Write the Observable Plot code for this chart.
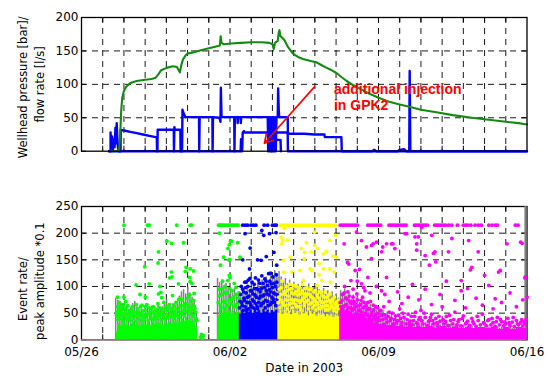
<!DOCTYPE html>
<html><head><meta charset="utf-8">
<script src="https://cdn.jsdelivr.net/npm/d3@7"></script>
<script src="https://cdn.jsdelivr.net/npm/@observablehq/plot@0.6"></script>
<style>
body{margin:0;background:#fff;}
#chart{position:relative;width:548px;height:376px;background:#fff;}
#chart svg{position:absolute;left:0;overflow:visible;}
</style></head><body><div id="chart"></div>
<script>
// ---------- DATA (x = days after 05/26/2003 00:00) ----------
const dayTicks = [0, 7, 14, 21];
const dayLabels = ["05/26", "06/02", "06/09", "06/16"];
const gridDays = [1,2,3,4,5,6,7,8,9,10,11,12,13,14,15,16,17,18,19,20];
const pressureTicks = [0, 50, 100, 150, 200];
const eventTicks = [0, 50, 100, 150, 200, 250];

const pressure = [[1.37,0],[1.55,0],[1.77,1],[1.82,20],[1.87,60],[1.92,80],[2.0,90],[2.1,96],[2.3,102],[2.6,105],[3.0,107],[3.3,108],[3.5,110],[3.62,115],[3.75,121],[4.05,125],[4.3,127],[4.5,126],[4.58,121],[4.64,118],[4.70,128],[4.78,137],[4.9,143],[5.0,146],[5.3,148],[5.63,151],[6.0,154],[6.26,156],[6.52,158],[6.56,172],[6.60,162],[6.7,160],[7.05,161],[7.5,162],[8.0,163],[8.5,163],[8.86,162],[9.0,160],[9.06,153],[9.12,162],[9.25,165],[9.30,178],[9.33,181],[9.38,172],[9.45,170],[9.57,166],[9.73,156],[9.97,146],[10.2,141],[10.44,138],[10.8,135],[11.07,133],[11.3,129],[11.54,125],[11.8,121],[12.02,117],[12.25,111],[12.5,105],[12.8,99],[13.1,94],[13.5,87],[14.0,80],[14.5,74],[15.0,70],[15.5,66],[16.0,62],[16.8,58],[17.5,54],[18.4,50],[19.2,47],[20.0,44],[20.6,42],[21,40]];

const flowA = [[1.30,0],[1.37,0],[1.37,28],[1.40,4],[1.44,22],[1.48,3],[1.52,18],[1.56,6],[1.60,35],[1.63,12],[1.66,42],[1.69,20],[1.72,5],[1.76,0],[1.84,0],[1.85,32],[2.0,31],[2.3,29],[2.6,27],[2.9,25],[3.2,23],[3.5,21],[3.55,21],[3.56,0],[3.58,0],[3.59,32],[4.35,32],[4.36,0],[4.38,36],[4.40,32],[4.66,32],[4.67,0],[4.74,0],[4.76,62],[4.82,56],[4.9,51],[5.54,51],[5.55,0],[5.57,51],[6.17,51],[6.18,0],[6.20,51],[6.50,50],[6.55,44],[6.57,95],[6.60,52],[6.64,51],[7.20,51],[7.21,0],[7.23,51],[7.35,51],[7.36,42],[7.38,51],[7.50,51],[7.51,42],[7.53,51],[8.78,51],[8.80,0],[8.83,51],[8.86,0],[8.89,51],[8.92,0],[8.95,51],[8.98,0],[9.01,51],[9.04,0],[9.07,51],[9.10,0],[9.13,51],[9.16,0],[9.19,51],[9.25,51],[9.27,94],[9.30,60],[9.32,51],[9.72,51],[9.73,26],[10.5,26],[11.0,25],[11.45,25],[11.47,21],[12.25,21],[12.27,0],[13.7,0],[13.8,2],[13.9,0],[14.9,0],[15.0,2],[15.2,3],[15.3,0],[15.45,0],[15.47,120],[15.50,0],[21,0]];
const flowB = [[1.30,0],[7.50,0],[7.52,18],[7.54,0],[7.57,0],[7.60,28],[7.66,30],[7.70,28],[9.72,28],[9.73,0],[21,0]];
const flowC = [[8.98,0],[9.0,17],[9.38,17],[9.40,0]];

const annotArrow = [{x1: 10.99, y1: 96.6, x2: 8.62, y2: 11.8}];
const annotText = [{x: 11.9, y: 101.7, text: "additional injection\nin GPK2"}];

const eventRate = [[1.6,78],[1.7,74],[1.8,70],[1.9,64],[2.0,52],[2.1,46],[2.2,56],[2.3,60],[2.4,68],[2.5,72],[2.6,62],[2.7,55],[2.8,58],[2.9,50],[3.0,56],[3.1,62],[3.2,57],[3.3,63],[3.4,55],[3.5,60],[3.6,66],[3.7,58],[3.8,62],[3.9,72],[4.0,76],[4.1,66],[4.2,62],[4.3,68],[4.4,60],[4.5,72],[4.6,82],[4.7,90],[4.8,94],[4.9,86],[5.0,98],[5.1,88],[5.2,80],[5.3,72],[5.4,50],
[6.4,115],[6.5,108],[6.6,112],[6.7,100],[6.8,106],[6.9,98],[7.0,92],[7.1,88],[7.2,96],[7.3,85],[7.4,90],[7.5,80],[7.6,95],[7.7,88],[7.8,102],[7.9,94],[8.0,98],[8.1,105],[8.2,96],[8.3,108],[8.4,100],[8.5,112],[8.6,104],[8.7,118],[8.8,110],[8.9,125],[9.0,120],[9.1,130],[9.2,122],[9.3,128],[9.4,118],[9.5,110],[9.6,115],[9.7,105],[9.8,112],[9.9,100],[10.0,108],[10.1,98],[10.2,104],[10.3,95],[10.4,110],[10.5,100],[10.6,96],[10.7,105],[10.8,92],[10.9,98],[11.0,90],[11.1,100],[11.2,94],[11.3,88],[11.4,96],[11.5,85],[11.6,92],[11.7,84],[11.8,90],[11.9,80],[12.0,86],[12.1,78],[12.2,92],[12.3,85],[12.4,95],[12.5,82],[12.6,88],[12.7,76],[12.8,84],[12.9,72],[13.0,80],[13.1,70],[13.2,74],[13.3,65],[13.4,70],[13.5,62],[13.6,66],[13.7,58],[13.8,62],[13.9,55],[14.0,60],[14.1,52],[14.2,56],[14.3,48],[14.4,52],[14.5,44],[14.6,48],[14.7,40],[14.8,44],[14.9,38],[15.0,42],[15.1,36],[15.2,40],[15.3,34],[15.4,37],[15.5,33],[15.6,36],[15.7,31],[15.8,34],[15.9,30],[16.0,33],[16.1,29],[16.2,32],[16.3,28],[16.4,34],[16.5,30],[16.6,33],[16.7,29],[16.8,31],[16.9,28],[17.0,32],[17.1,29],[17.2,36],[17.3,28],[17.4,30],[17.5,26],[17.6,29],[17.7,25],[17.8,28],[17.9,24],[18.0,27],[18.1,23],[18.2,26],[18.3,22],[18.4,25],[18.5,22],[18.6,24],[18.7,21],[18.8,24],[18.9,22],[19.0,25],[19.1,21],[19.2,23],[19.3,20],[19.4,24],[19.5,21],[19.6,25],[19.7,22],[19.8,24],[19.9,21],[20.0,23],[20.1,20],[20.2,24],[20.3,21],[20.4,25],[20.5,22],[20.6,24],[20.7,21],[20.8,26],[20.9,250]];

const greenBand1 = [[1.62,15],[1.7,30],[1.8,25],[1.9,32],[2.0,28],[2.1,35],[2.2,26],[2.3,30],[2.4,34],[2.5,28],[2.6,32],[2.7,26],[2.8,30],[2.9,35],[3.0,28],[3.1,32],[3.2,27],[3.3,33],[3.4,29],[3.5,35],[3.6,30],[3.7,34],[3.8,28],[3.9,36],[4.0,30],[4.1,34],[4.2,29],[4.3,36],[4.4,31],[4.5,38],[4.6,33],[4.7,40],[4.8,35],[4.9,42],[5.0,36],[5.1,40],[5.2,34],[5.3,38],[5.4,25],[5.47,0]];
const greenBand2 = [[6.42,45],[6.5,55],[6.6,50],[6.7,58],[6.8,52],[6.9,56],[7.0,50],[7.1,55],[7.2,48],[7.3,52],[7.44,52]];
const blueBand = [[7.44,48],[7.55,55],[7.65,50],[7.75,58],[7.85,52],[7.95,56],[8.05,50],[8.15,58],[8.25,52],[8.35,55],[8.45,50],[8.55,57],[8.65,52],[8.75,56],[8.85,50],[8.95,55],[9.05,52],[9.15,56],[9.26,56]];
const yellowBand = [[9.26,50],[9.35,55],[9.45,48],[9.55,56],[9.65,50],[9.75,54],[9.85,47],[9.95,55],[10.05,50],[10.15,53],[10.25,46],[10.35,54],[10.45,49],[10.55,52],[10.65,45],[10.75,53],[10.85,48],[10.95,51],[11.05,44],[11.15,50],[11.25,46],[11.35,49],[11.45,43],[11.55,48],[11.65,44],[11.75,47],[11.85,42],[11.95,46],[12.05,43],[12.17,43]];
const magentaBand = [[12.17,58],[12.3,62],[12.4,54],[12.5,60],[12.6,52],[12.7,56],[12.8,48],[12.9,52],[13.0,44],[13.1,48],[13.2,40],[13.3,44],[13.4,37],[13.5,40],[13.6,34],[13.7,37],[13.8,31],[13.9,34],[14.0,29],[14.2,31],[14.4,27],[14.6,29],[14.8,25],[15.0,28],[15.2,24],[15.4,27],[15.6,23],[15.8,26],[16.0,23],[16.3,25],[16.6,22],[16.9,25],[17.2,22],[17.5,24],[17.8,21],[18.1,24],[18.4,21],[18.7,23],[19.0,21],[19.3,24],[19.6,20],[19.9,23],[20.2,20],[20.5,23],[20.8,21],[21,21]];

const greenDots = [[1.65,45],[1.68,62],[1.72,38],[1.75,55],[1.78,70],[1.8,48],[1.85,66],[1.88,40],[1.92,58],[1.96,35],[2.02,50],[2.05,42],[2.1,60],[2.15,38],[2.2,47],[2.25,55],[2.3,36],[2.35,44],[2.4,62],[2.45,40],[2.5,52],[2.55,35],[2.6,45],[2.65,58],[2.7,40],[2.75,50],[2.8,36],[2.85,65],[2.9,44],[2.95,38],[3.0,55],[3.05,42],[3.1,48],[3.15,36],[3.2,60],[3.25,45],[3.3,40],[3.35,52],[3.4,38],[3.45,46],[3.5,56],[3.55,40],[3.6,68],[3.65,44],[3.7,50],[3.75,38],[3.8,58],[3.85,46],[3.9,40],[3.95,62],[4.0,48],[4.05,55],[4.1,42],[4.15,66],[4.2,50],[4.25,45],[4.3,60],[4.35,40],[4.4,52],[4.45,70],[4.5,46],[4.55,58],[4.6,42],[4.65,64],[4.7,50],[4.75,75],[4.8,55],[4.85,45],[4.9,68],[4.95,52],[5.0,78],[5.05,60],[5.1,48],[5.15,72],[5.2,55],[5.25,65],[5.3,45],[5.35,58],[5.4,40],
[1.66,52],[1.74,44],[1.83,58],[1.9,47],[1.98,66],[2.07,55],[2.12,48],[2.18,64],[2.28,50],[2.38,56],[2.48,44],[2.58,66],[2.68,48],[2.78,62],[2.88,54],[2.98,47],[3.08,66],[3.18,50],[3.28,58],[3.38,62],[3.48,42],[3.58,54],[3.68,60],[3.78,48],[3.88,70],[3.98,56],[4.08,62],[4.18,44],[4.28,54],[4.38,64],[4.48,58],[4.58,76],[4.68,62],[4.78,48],[4.88,60],[4.98,66],[5.08,84],[5.18,62],[5.28,74],[5.38,52],[5.44,36],
[1.7,50],[1.86,52],[2.03,58],[2.22,40],[2.42,50],[2.62,52],[2.82,46],[3.02,62],[3.22,52],[3.42,50],[3.62,48],[3.82,52],[4.02,42],[4.22,58],[4.42,46],[4.62,52],[4.82,64],[5.02,54],[5.22,46],[5.32,62],
[5.6,5],[5.65,10],[5.7,3],[5.75,8],
[1.7,80],[2.0,80],[2.08,72],[1.92,64],[2.57,103],[2.76,85],[2.98,137],[3.01,80],[3.19,105],[3.61,144],[3.63,165],[3.63,86],[3.70,100],[3.74,89],[3.78,79],[4.02,185],[4.16,116],[4.24,181],[4.24,127],[4.26,118],[4.29,83],[4.57,105],[4.68,77],[4.81,182],[4.89,128],[4.93,136],[5.09,117],[5.12,133],[5.12,109],[5.2,106],[5.28,129],[5.31,87],
[2.0,215],[3.11,215],[3.19,215],[4.49,215],[5.12,215],[5.20,215],
[6.45,70],[6.5,95],[6.55,65],[6.6,85],[6.65,110],[6.7,72],[6.75,100],[6.8,60],[6.85,88],[6.9,111],[6.95,75],[7.0,117],[7.05,68],[7.1,92],[7.15,80],[7.2,106],[7.25,65],[7.3,85],[7.35,60],[7.4,78],
[6.48,82],[6.58,60],[6.63,96],[6.72,88],[6.78,70],[6.88,64],[6.98,96],[7.08,76],[7.18,62],[7.28,98],[7.38,70],[7.42,88],
[6.5,200],[6.55,140],[6.7,155],[6.9,171],[6.94,150],[6.96,178],[6.97,121],[7.0,150],[7.02,185],[7.08,185],[7.36,182],[7.47,155],
[6.46,215],[6.52,215],[6.58,215],[6.65,215],[6.73,215],[6.81,215],[6.9,215],[6.98,215],[7.05,215],[7.12,215],[7.2,215],[7.3,215],[7.38,215]];

const blueDots = [[7.46,60],[7.5,85],[7.55,70],[7.6,95],[7.62,55],[7.66,78],[7.7,108],[7.72,62],[7.76,88],[7.8,70],[7.84,100],[7.88,58],[7.9,82],[7.94,115],[7.98,66],[8.02,92],[8.06,75],[8.1,60],[8.14,104],[8.18,84],[8.22,68],[8.26,96],[8.3,58],[8.34,112],[8.38,78],[8.42,90],[8.46,64],[8.5,120],[8.54,82],[8.58,70],[8.62,98],[8.66,60],[8.7,110],[8.74,86],[8.78,72],[8.82,124],[8.86,94],[8.9,66],[8.94,105],[8.98,80],[9.02,118],[9.06,88],[9.1,70],[9.14,100],[9.18,122],[9.22,76],[9.25,95],
[7.48,72],[7.53,100],[7.58,64],[7.64,90],[7.68,74],[7.74,98],[7.78,56],[7.82,80],[7.86,112],[7.92,70],[7.96,92],[8.0,62],[8.04,108],[8.08,86],[8.12,72],[8.16,96],[8.2,116],[8.24,80],[8.28,62],[8.32,94],[8.36,70],[8.4,106],[8.44,82],[8.48,96],[8.52,68],[8.56,106],[8.6,84],[8.64,114],[8.68,74],[8.72,92],[8.76,102],[8.8,64],[8.84,84],[8.88,110],[8.92,90],[8.96,70],[9.0,98],[9.04,76],[9.08,106],[9.12,86],[9.16,64],[9.2,108],[9.24,84],
[7.71,199],[7.95,172],[7.92,133],[7.76,108],[8.47,149],[8.50,205],[8.59,196],[8.71,156],[8.86,199],[8.91,125],[9.07,164],[9.17,201],[9.2,140],[8.3,150],[7.6,150],
[7.6,215],[7.72,215],[7.83,215],[7.99,215],[8.1,215],[8.22,215],[8.61,215],[8.77,215],[9.0,215],[9.1,215],[9.19,215]];

const yellowDots = [[9.28,70],[9.32,95],[9.36,60],[9.4,85],[9.45,110],[9.5,65],[9.55,90],[9.6,75],[9.65,100],[9.7,58],[9.75,82],[9.8,95],[9.85,68],[9.9,88],[9.95,60],[10.0,102],[10.05,75],[10.1,90],[10.15,62],[10.2,84],[10.25,98],[10.3,70],[10.35,56],[10.4,92],[10.45,78],[10.5,64],[10.55,96],[10.6,72],[10.65,86],[10.7,58],[10.75,94],[10.8,68],[10.85,80],[10.9,60],[10.95,90],[11.0,74],[11.05,56],[11.1,85],[11.15,66],[11.2,78],[11.25,58],[11.3,88],[11.35,70],[11.4,62],[11.45,80],[11.5,56],[11.55,72],[11.6,64],[11.65,84],[11.7,58],[11.75,70],[11.8,62],[11.85,76],[11.9,55],[11.95,68],[12.0,60],[12.05,72],[12.1,58],[12.15,65],
[9.3,80],[9.38,75],[9.42,98],[9.48,70],[9.58,85],[9.62,64],[9.68,92],[9.72,74],[9.78,66],[9.82,104],[9.88,76],[9.92,96],[9.98,70],[10.02,86],[10.08,66],[10.12,100],[10.18,74],[10.22,92],[10.28,62],[10.32,86],[10.38,74],[10.42,104],[10.48,86],[10.52,70],[10.58,82],[10.62,98],[10.68,74],[10.72,66],[10.78,84],[10.82,96],[10.88,70],[10.92,78],[10.98,64],[11.02,92],[11.08,70],[11.12,80],[11.18,60],[11.22,90],[11.28,72],[11.32,62],[11.38,82],[11.42,70],[11.48,90],[11.52,64],[11.58,80],[11.62,56],[11.68,74],[11.72,86],[11.78,64],[11.82,72],[11.88,60],[11.92,80],[11.98,66],[12.02,52],[12.08,64],[12.12,74],
[9.41,192],[9.43,180],[9.49,186],[9.57,209],[9.7,187],[9.53,149],[9.53,127],[9.84,155],[9.9,127],[10.3,130],[10.36,171],[10.46,111],[10.5,152],[10.52,164],[10.6,182],[10.78,133],[10.83,165],[10.86,130],[10.98,202],[10.99,177],[11.1,102],[11.13,171],[11.2,143],[11.2,122],[11.33,111],[11.4,161],[11.4,133],[11.55,166],[11.7,186],[11.7,133],[11.73,108],[11.86,157],[11.9,127],[11.98,196],[12.0,155],
[9.35,215],[9.45,215],[9.55,215],[9.65,215],[9.75,215],[9.85,215],[9.95,215],[10.05,215],[10.15,215],[10.25,215],[10.35,215],[10.45,215],[10.55,215],[10.65,215],[10.75,215],[10.85,215],[10.95,215],[11.05,215],[11.15,215],[11.25,215],[11.35,215],[11.45,215],[11.55,215],[11.65,215],[11.75,215],[11.85,215],[11.95,215]];

const magentaDots = [[12.2,70],[12.25,55],[12.3,85],[12.35,62],[12.4,48],[12.45,78],[12.5,66],[12.55,90],[12.6,52],[12.65,72],[12.7,60],[12.75,45],[12.8,80],[12.85,58],[12.9,68],[12.95,50],[13.0,75],[13.05,55],[13.1,42],[13.15,66],[13.2,52],[13.25,80],[13.3,46],[13.35,62],[13.4,38],[13.45,56],[13.5,70],[13.55,44],[13.6,58],[13.65,36],[13.7,52],[13.75,65],[13.8,40],[13.85,48],[13.9,35],[13.95,60],[14.0,42],[14.1,55],[14.2,38],[14.3,47],[14.4,33],[14.5,52],[14.6,40],[14.7,30],[14.8,45],[14.9,36],[15.0,58],[15.1,32],[15.2,42],[15.3,30],[15.4,48],[15.5,35],[15.6,28],[15.7,44],[15.8,32],[15.9,38],[16.0,55],[16.1,30],[16.2,42],[16.3,27],[16.4,36],[16.5,48],[16.6,30],[16.7,40],[16.8,26],[16.9,35],[17.0,62],[17.1,30],[17.2,44],[17.3,27],[17.4,36],[17.5,30],[17.6,52],[17.7,28],[17.8,38],[17.9,26],[18.0,45],[18.1,30],[18.2,35],[18.3,27],[18.4,40],[18.5,30],[18.6,25],[18.7,36],[18.8,28],[18.9,48],[19.0,30],[19.1,26],[19.2,38],[19.3,28],[19.4,32],[19.5,25],[19.6,42],[19.7,28],[19.8,34],[19.9,26],[20.0,30],[20.1,40],[20.2,27],[20.3,33],[20.4,25],[20.5,36],[20.6,28],[20.7,32],[20.8,26],[20.9,30],[20.95,38],
[12.22,62],[12.28,74],[12.32,50],[12.38,88],[12.42,64],[12.48,54],[12.52,76],[12.58,60],[12.62,82],[12.68,48],[12.72,68],[12.78,56],[12.82,72],[12.88,44],[12.92,62],[12.98,86],[13.02,48],[13.08,64],[13.12,56],[13.18,74],[13.22,44],[13.28,60],[13.32,70],[13.38,50],[13.42,64],[13.48,46],[13.52,58],[13.58,40],[13.62,72],[13.68,46],[13.72,38],[13.78,56],[13.82,44],[13.88,62],[13.92,40],[13.98,50],[14.05,36],[14.15,46],[14.25,62],[14.35,40],[14.45,44],[14.55,36],[14.65,50],[14.75,38],[14.85,32],[14.95,46],
[15.05,40],[15.15,50],[15.35,38],[15.45,30],[15.55,44],[15.65,36],[15.75,52],[15.85,30],[15.95,42],[16.05,36],[16.15,50],[16.35,34],[16.45,42],[16.55,36],[16.75,32],[16.85,44],[17.05,38],[17.15,34],[17.35,46],[17.55,38],[17.75,34],[17.95,40],[18.15,32],[18.45,34],[18.65,44],[18.95,32],[19.15,36],[19.35,40],[19.55,34],[19.75,38],[19.95,33],[20.15,32],[20.35,42],[20.55,30],[20.75,38],[20.85,34],
[12.4,100],[12.8,95],[13.0,110],[13.3,98],[13.6,88],[13.9,100],[14.3,85],[14.5,72],[14.9,90],[15.1,68],[15.4,80],[15.6,104],[15.9,75],[16.2,95],[16.5,66],[16.9,85],[17.2,110],[17.6,74],[17.9,92],[18.1,60],[18.6,78],[18.9,65],[19.2,102],[19.4,58],[19.8,70],[20.2,88],[20.5,62],[20.8,75],
[12.38,180],[12.54,145],[12.6,142],[12.7,111],[12.9,130],[12.96,202],[13.1,132],[13.2,186],[13.2,105],[13.36,92],[13.43,174],[13.5,117],[13.67,177],[13.67,152],[13.75,180],[13.9,183],[14.14,165],[14.14,92],[14.2,174],[14.38,180],[14.38,117],[14.61,180],[14.68,180],[14.77,171],[15.25,199],[15.33,199],[15.72,193],[15.8,180],[15.88,193],[15.8,168],[16.04,211],[16.2,158],[16.4,140],[16.51,196],[16.59,162],[16.66,165],[16.7,146],[17.3,165],[17.46,190],[17.9,111],[18.2,96],[18.25,186],[18.33,131],[18.4,136],[18.7,165],[19.0,121],[19.5,77],[19.66,127],[19.74,130],[20.06,180],[20.7,183],[20.77,181],[20.9,116],[20.92,118],[21.0,80],
[12.2,215],[12.3,215],[12.4,215],[12.5,215],[12.6,215],[12.7,215],[12.8,215],[12.9,215],[13.0,215],[13.5,215],[13.6,215],[13.7,215],[13.8,215],[13.9,215],[14.0,215],[14.1,215],[14.5,215],[14.6,215],[14.7,215],[14.8,215],[14.9,215],[15.0,215],[15.1,215],[15.2,215],[15.3,215],[15.7,215],[15.8,215],[15.9,215],[16.0,215],[16.1,215],[16.2,215],[16.3,215],[16.65,215],[16.75,215],[16.85,215],[16.95,215],[17.05,215],[17.15,215],[17.3,215],[17.45,215],[17.72,215],[18.0,215],[18.1,215],[18.2,215],[18.35,215],[18.55,215],[18.7,215],[18.85,215],[19.2,215],[19.35,215],[19.5,215],[19.6,215],[20.45,215],[20.58,215]];

// ---------- STYLE / LAYOUT ----------
const W = 548;
const ML = 81, MR = 21.5;
const PW = W - ML - MR;
const TOP_H = 175, TOP_MT = 17, TOP_MB = 24.3;
const BOT_H = 201, BOT_MT = 31, BOT_MB = 36.7;
const TOP_PH = TOP_H - TOP_MT - TOP_MB;
const BOT_PH = BOT_H - BOT_MT - BOT_MB;
const TICK = 5;
const FONT = "DejaVu Sans";
const gridStyle = {stroke: "#000", strokeWidth: 0.9, strokeDasharray: "6,5"};
const xy = {x: d => d[0], y: d => d[1]};
const binWidth = 0.07;
const DOT_R = 1.9;

function tickMarks(yTicks, ph) {
  return [
    Plot.tickX(gridDays, {x: d => d, insetBottom: ph - TICK, stroke: "#000"}),
    Plot.tickX(gridDays, {x: d => d, insetTop: ph - TICK, stroke: "#000"}),
    Plot.tickY(yTicks, {y: d => d, insetRight: PW - TICK, stroke: "#000"}),
    Plot.tickY(yTicks, {y: d => d, insetLeft: PW - TICK, stroke: "#000"})
  ];
}
const titleOpts = {frameAnchor: "left", rotate: -90, fontSize: 11.5, textAnchor: "middle", lineAnchor: "middle", fill: "#000"};

const topPlot = Plot.plot({
  width: W, height: TOP_H,
  marginLeft: ML, marginRight: MR, marginTop: TOP_MT, marginBottom: TOP_MB,
  style: {fontFamily: FONT, fontSize: "12px", background: "transparent", color: "#000"},
  x: {domain: [0, 21], axis: null},
  y: {domain: [0, 200]},
  marks: [
    Plot.ruleX(gridDays, {x: d => d, ...gridStyle}),
    Plot.ruleY(pressureTicks.slice(1, -1), {y: d => d, ...gridStyle}),
    ...tickMarks(pressureTicks, TOP_PH),
    Plot.line(flowB, {...xy, stroke: "#0000ff", strokeWidth: 2.4}),
    Plot.line(flowC, {...xy, stroke: "#0000ff", strokeWidth: 2.4}),
    Plot.line(flowA, {...xy, stroke: "#0000ff", strokeWidth: 2.4}),
    Plot.line(pressure, {...xy, stroke: "#138a13", strokeWidth: 2.1}),
    Plot.arrow(annotArrow, {x1: "x1", y1: "y1", x2: "x2", y2: "y2", stroke: "#ff0000", strokeWidth: 1.6, headLength: 9}),
    Plot.text(annotText, {x: "x", y: "y", text: "text", fill: "#ff0000", fontWeight: "bold", fontSize: 14,
      fontFamily: "Liberation Sans, Arial, sans-serif", textAnchor: "start", lineAnchor: "top", lineHeight: 1.1}),
    Plot.frame({stroke: "#000", strokeWidth: 1.3}),
    Plot.axisY({ticks: pressureTicks, tickSize: 0, tickPadding: 3, label: null, fontSize: 12}),
    Plot.text(["Wellhead pressure [bar]/"], {text: d => d, ...titleOpts, dx: -58.5, dy: 3}),
    Plot.text(["flow rate [l/s]"], {text: d => d, ...titleOpts, dx: -41, dy: 0})
  ]
});

const botPlot = Plot.plot({
  width: W, height: BOT_H,
  marginLeft: ML, marginRight: MR, marginTop: BOT_MT, marginBottom: BOT_MB,
  style: {fontFamily: FONT, fontSize: "12px", background: "transparent", color: "#000"},
  x: {domain: [0, 21]},
  y: {domain: [0, 250]},
  marks: [
    Plot.ruleX(gridDays, {x: d => d, ...gridStyle}),
    Plot.ruleY(eventTicks.slice(1, -1), {y: d => d, ...gridStyle}),
    ...tickMarks(eventTicks, BOT_PH),
    Plot.frame({stroke: "#000", strokeWidth: 1.3}),
    Plot.ruleY([0], {y: d => d, stroke: "#b8909c", strokeWidth: 1.3}),
    Plot.rectY(eventRate, {x1: d => d[0], x2: d => Math.min(21, d[0] + (d[1] > 200 ? 0.1 : binWidth)), y1: 0, y2: d => d[1], fill: "#808080"}),
    Plot.areaY(greenBand1, {...xy, curve: "step-after", fill: "#00ff00"}),
    Plot.areaY(greenBand2, {...xy, curve: "step-after", fill: "#00ff00"}),
    Plot.areaY(blueBand, {...xy, curve: "step-after", fill: "#0000ff"}),
    Plot.areaY(yellowBand, {...xy, curve: "step-after", fill: "#ffff00"}),
    Plot.areaY(magentaBand, {...xy, curve: "step-after", fill: "#ff00ff"}),
    Plot.dot(greenDots, {...xy, r: DOT_R, fill: "#00ff00"}),
    Plot.dot(blueDots, {...xy, r: DOT_R, fill: "#0000ff"}),
    Plot.dot(yellowDots, {...xy, r: DOT_R, fill: "#ffff00"}),
    Plot.dot(magentaDots, {...xy, r: DOT_R, fill: "#ff00ff"}),
    Plot.axisY({ticks: eventTicks, tickSize: 0, tickPadding: 3, label: null, fontSize: 12}),
    Plot.axisX({ticks: dayTicks, tickFormat: d => dayLabels[dayTicks.indexOf(d)], tickSize: 0, tickPadding: 8, label: null, fontSize: 12}),
    Plot.text(["Date in 2003"], {text: d => d, frameAnchor: "bottom", dy: 28, fontSize: 12, textAnchor: "middle", lineAnchor: "middle", fill: "#000"}),
    Plot.text(["Event rate/"], {text: d => d, ...titleOpts, dx: -58.5, dy: 16}),
    Plot.text(["peak amplitude *0.1"], {text: d => d, ...titleOpts, dx: -41, dy: 8})
  ]
});

const chart = document.getElementById("chart");
topPlot.style.top = "0px";
botPlot.style.top = TOP_H + "px";
chart.appendChild(topPlot);
chart.appendChild(botPlot);
</script>
</body></html>
